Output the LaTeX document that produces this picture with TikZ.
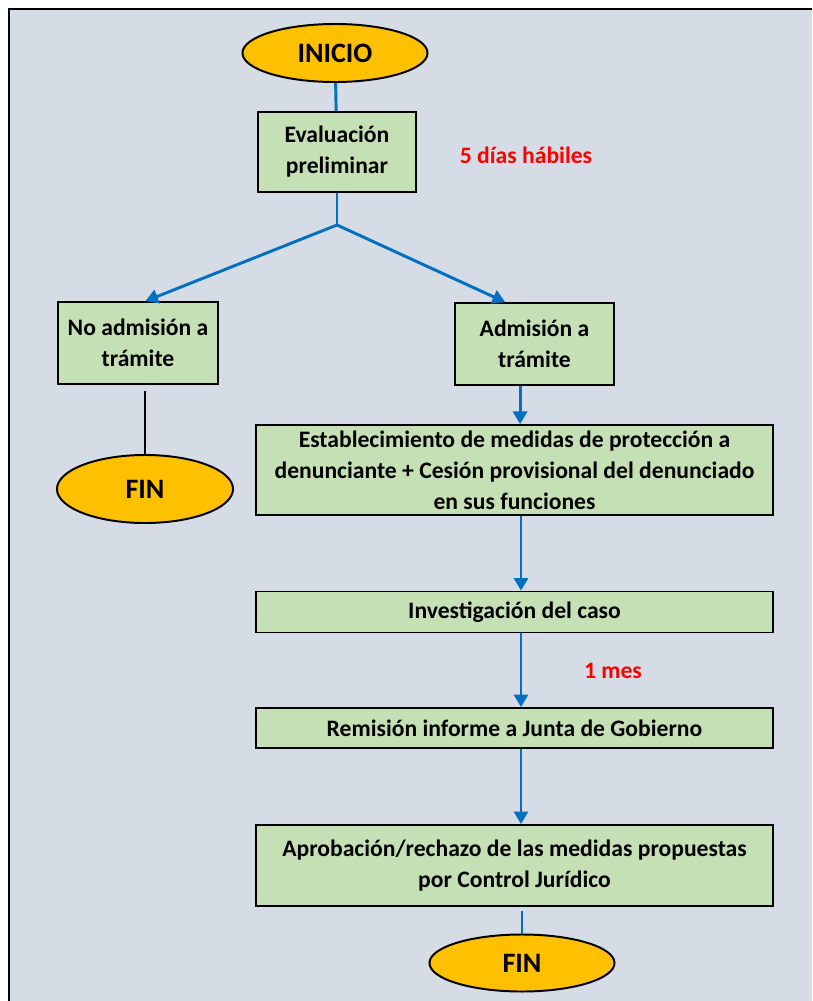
\documentclass[tikz,border=0pt]{standalone}
\usepackage{fontspec}
\setmainfont{Carlito}
\usepackage{tikz}
\usetikzlibrary{shapes}
\usetikzlibrary{arrows.meta}
\definecolor{fondo}{HTML}{D6DCE5}
\definecolor{verde}{HTML}{C5E0B4}
\definecolor{ambar}{HTML}{FFC000}
\definecolor{azul}{HTML}{0070C0}
\tikzset{
  main node/.style={rectangle,draw,line width=1.2pt,fill=verde,align=center,inner sep=2pt,
    font=\bfseries\fontsize{16.8}{22}\selectfont},
  end node/.style={ellipse,draw,line width=1.4pt,fill=ambar,inner sep=0pt,
    font=\bfseries\fontsize{20}{24}\selectfont},
  plazo/.style={text=red,font=\bfseries\fontsize{16.8}{22}\selectfont},
  flujo/.style={draw=azul,line width=2.1pt}
}

\begin{document}
\begin{tikzpicture}[x=0.025cm,y=-0.025cm,>={Triangle[length=9pt,width=10pt]}]
  \useasboundingbox (0,0) rectangle (812,1001);
  \fill[fondo] (9,9) rectangle (812,1001);
  \draw[line width=2pt] (9,1001) -- (9,9) -- (812,9);

  % nodos
  \node [end node,minimum width=4.625cm,minimum height=1.45cm] (1) at (335,53) {INICIO};
  \node [main node,minimum width=3.95cm,minimum height=2cm] (2) at (337,152) {Evaluación\\preliminar};
  \node [plazo] (p1) at (526,155) {5 días hábiles};
  \coordinate (b) at (337,225);
  \node [main node,minimum width=4cm,minimum height=2.05cm] (3) at (138,343) {No admisión a\\trámite};
  \node [main node,minimum width=3.975cm,minimum height=2.05cm] (4) at (534.5,344) {Admisión a\\trámite};
  \node [end node,minimum width=4.4cm,minimum height=1.7cm] (5) at (145,489) {FIN};
  \node [main node,minimum width=12.925cm,minimum height=2.25cm] (6) at (514.5,470)
    {Establecimiento de medidas de protección a\\denunciante + Cesión provisional del denunciado\\en sus funciones};
  \node [main node,minimum width=12.925cm,minimum height=1.025cm] (7) at (514.5,612) {Investigación del caso};
  \node [plazo] (p2) at (613,671) {1 mes};
  \node [main node,minimum width=12.925cm,minimum height=1cm] (8) at (514.5,728) {Remisión informe a Junta de Gobierno};
  \node [main node,minimum width=12.925cm,minimum height=2.025cm] (9) at (514.5,865.5)
    {Aprobación/rechazo de las medidas propuestas\\por Control Jurídico};
  \node [end node,minimum width=4.625cm,minimum height=1.425cm] (10) at (522,963) {FIN};
  \coordinate (c) at (521,0);

  % conectores
  \draw [flujo] (1) -- (2);
  \draw [flujo] (2) -- (b);
  \draw [flujo,->] (b) -- (3.80);
  \draw [flujo,->] (b) -- (4.125);
  \draw [line width=1.6pt] ([yshift=-0.15cm]3.south -| 5.north) -- (5.north);
  \draw [flujo,->] (4.-109) -- (4.-109 |- 6.north);
  \draw [flujo,->] (6.south -| c) -- (7.north -| c);
  \draw [flujo,->] (7.south -| c) -- (8.north -| c);
  \draw [flujo,->] (8.south -| c) -- (9.north -| c);
  \draw [flujo] ([yshift=-0.1cm]9.south -| 10.north) -- (10.north);
\end{tikzpicture}
\end{document}
